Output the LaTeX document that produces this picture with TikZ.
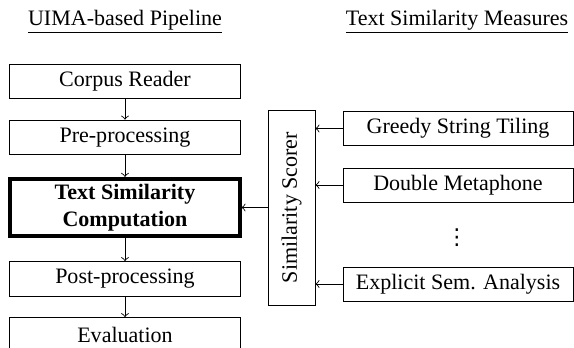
\documentclass[tikz,border=0pt]{standalone}
\usepackage{fontspec}
\setmainfont{Liberation Serif}
\newfontfamily\symfont{DejaVu Sans}
\usetikzlibrary{arrows,shapes}
\tikzstyle{stage}=[draw,rectangle,minimum width=105pt,minimum height=15.8pt,inner sep=0pt]
\tikzstyle{measure}=[draw,rectangle,minimum width=104.4pt,minimum height=15.4pt,inner sep=0pt]
\tikzstyle{edge} = [draw,->]

\begin{document}
\begin{tikzpicture}[x=0.454pt,y=0.454pt]
    \useasboundingbox (0,0) rectangle (574,347);
    % Column headings
    \node (head1) at (125,325) {\underline{UIMA-based Pipeline}};
    \node (head2) at (457,325) {\underline{Text Similarity Measures}};
    % First we draw the pipeline stages
    \foreach \pos/\name/\txt in {{(125,265.5)/cr/Corpus Reader}, {(125,209.5)/pre/Pre-processing}, {(125,68)/post/Post-processing}, {(125,12)/eval/Evaluation}}
        \node[stage] (\name) at \pos {\txt};
    \node[stage,line width=1.8pt,minimum width=104pt,minimum height=26pt,align=center,font=\bfseries] (tsc) at (125,139.5) {Text Similarity\\Computation};
    % Then the scorer and the measures
    \node[draw,rectangle,rotate=90,minimum width=88.5pt,minimum height=21.3pt,inner sep=0pt] (scorer) at (291.5,139.5) {Similarity Scorer};
    \foreach \pos/\name/\txt in {{(458,218.5)/gst/Greedy String Tiling}, {(458,162)/dm/Double Metaphone}, {(458,63)/esa/Explicit Sem. Analysis}}
        \node[measure] (\name) at \pos {\txt};
    \node[font=\symfont] (dots) at (457,109) {⋮};
    % Connect stages with edges
    \foreach \source/ \dest in {cr/pre, pre/tsc, tsc/post, post/eval}
        \path[edge] (\source) -- (\dest) ;
    \foreach \source in {gst, dm, esa}
        \path[edge] (\source.west) -- (\source.west -| scorer.south) ;
    \path[edge] (scorer.north) -- (tsc.east) ;
\end{tikzpicture}
\end{document}
